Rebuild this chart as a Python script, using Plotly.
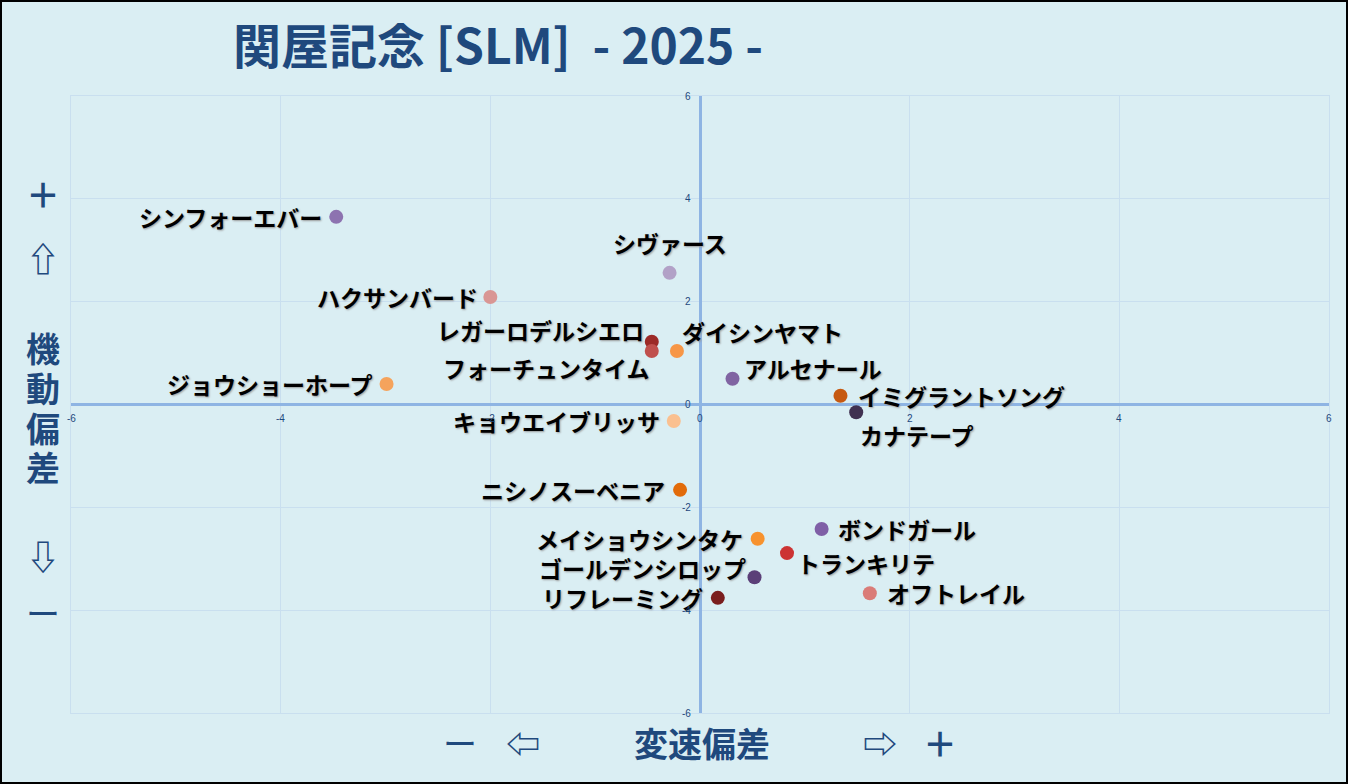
import plotly.graph_objects as go

# horse names, speed deviation (x) and maneuver deviation (y)
horses = [
    "シンフォーエバー", "シヴァース", "ハクサンバード", "レガーロデルシエロ",
    "フォーチュンタイム", "ダイシンヤマト", "ジョウショーホープ", "アルセナール",
    "イミグラントソング", "カナテープ", "キョウエイブリッサ", "ニシノスーベニア",
    "ボンドガール", "メイショウシンタケ", "トランキリテ", "ゴールデンシロップ",
    "リフレーミング", "オフトレイル",
]
speed_dev = [
    -3.47, -0.29, -2.00, -0.46,
    -0.46, -0.22, -2.99, 0.31,
    1.34, 1.49, -0.25, -0.19,
    1.16, 0.55, 0.83, 0.52,
    0.17, 1.62,
]
maneuver_dev = [
    3.65, 2.56, 2.09, 1.22,
    1.04, 1.04, 0.40, 0.50,
    0.17, -0.15, -0.32, -1.66,
    -2.42, -2.61, -2.89, -3.36,
    -3.76, -3.67,
]
tick_values = [-6, -4, -2, 0, 2, 4, 6]

# styling per point
colors = [
    "#8D73B0", "#B2A1C7", "#D99694", "#9C2A27",
    "#C0504D", "#F79646", "#F5A35C", "#8064A2",
    "#C65911", "#403151", "#FAC090", "#E26B0A",
    "#7F5FA6", "#F7922E", "#CC3333", "#5B3F78",
    "#7A1E1E", "#DA7C78",
]
# (xanchor, xshift, yshift) for each label
label_pos = [
    ("right", -12, 0), ("center", 0, 30), ("right", -10, 0), ("right", -6, 12),
    ("right", 0, -17), ("left", 3, 19), ("right", -12, 0), ("left", 9, 11),
    ("left", 16, 0), ("left", 2, -23), ("right", -12, 0), ("right", -13, 0),
    ("left", 14, 0), ("right", -13, 0), ("left", 8, -10), ("right", -7, 9),
    ("right", -13, 0), ("left", 15, 0),
]

BG = "#DAEEF3"
NAVY = "#1F497D"
JP_FONT = "Noto Sans CJK JP"

fig = go.Figure()

fig.add_trace(go.Scatter(
    x=speed_dev,
    y=maneuver_dev,
    mode="markers",
    marker=dict(size=14, color=colors, line=dict(width=0)),
    hoverinfo="text",
    text=horses,
))

annotations = []

# point labels
for name, x, y, (anchor, dx, dy) in zip(horses, speed_dev, maneuver_dev, label_pos):
    annotations.append(dict(
        x=x, y=y, text=name, showarrow=False,
        xanchor=anchor, yanchor="middle", xshift=dx, yshift=dy,
        font=dict(family=JP_FONT, size=23, color="black", weight="bold",
                  shadow="1px 1px 2px #9a9a9a"),
    ))

# tick labels sitting on the crossing axes
for v in tick_values:
    annotations.append(dict(
        x=v, y=0, text=str(v), showarrow=False, yshift=-14,
        font=dict(family="Liberation Sans", size=10, color=NAVY),
    ))
    annotations.append(dict(
        x=0, y=v, text=str(v), showarrow=False, xanchor="right", xshift=-7,
        font=dict(family="Liberation Sans", size=10, color=NAVY),
    ))

# side captions (positions in pixels of the 1348x784 page)
def side_text(txt, px, py, size=34, weight="bold"):
    annotations.append(dict(
        xref="paper", yref="paper",
        x=(px - 71) / 1258, y=(713 - py) / 617,
        text=txt, showarrow=False, xanchor="center", yanchor="middle",
        font=dict(family=JP_FONT, size=size, color=NAVY, weight=weight),
    ))

for txt, py in [("＋", 193), ("⇧", 257), ("機", 347), ("動", 387),
                ("偏", 427), ("差", 467), ("⇩", 555)]:
    side_text(txt, 43, py)
side_text("ー", 43, 612, weight="normal")

side_text("ー", 460, 742, weight="normal")
for txt, px in [("⇦", 523), ("変速偏差", 702), ("⇨", 880), ("＋", 940)]:
    side_text(txt, px, 742)

fig.update_layout(
    width=1348,
    height=784,
    margin=dict(l=71, r=19, t=96, b=71),
    paper_bgcolor=BG,
    plot_bgcolor=BG,
    showlegend=False,
    title=dict(
        text="関屋記念 [SLM]  - 2025 -",
        xref="container", yref="container",
        x=498 / 1348, y=1 - 47 / 784,
        xanchor="center", yanchor="middle",
        font=dict(family=JP_FONT, size=48, color=NAVY, weight="bold"),
    ),
    xaxis=dict(
        range=[-6, 6], dtick=2, tick0=0, showticklabels=False,
        gridcolor="#C9DFEF", gridwidth=1,
        zeroline=True, zerolinecolor="#8EB4E3", zerolinewidth=3,
        showline=True, mirror=True, linecolor="#C9DFEF", linewidth=1,
    ),
    yaxis=dict(
        range=[-6, 6], dtick=2, tick0=0, showticklabels=False,
        gridcolor="#C9DFEF", gridwidth=1,
        zeroline=True, zerolinecolor="#8EB4E3", zerolinewidth=3,
        showline=True, mirror=True, linecolor="#C9DFEF", linewidth=1,
    ),
    annotations=annotations,
    shapes=[dict(
        type="rect", xref="paper", yref="paper",
        x0=(1 - 71) / 1258, x1=(1347 - 71) / 1258,
        y0=(713 - 783) / 617, y1=(713 - 1) / 617,
        line=dict(color="black", width=2), layer="above",
    )],
)

fig.write_html(
    "out.html",
    config={"displayModeBar": False},
    post_script="document.body.style.margin='0';document.body.style.overflow='hidden';",
)
